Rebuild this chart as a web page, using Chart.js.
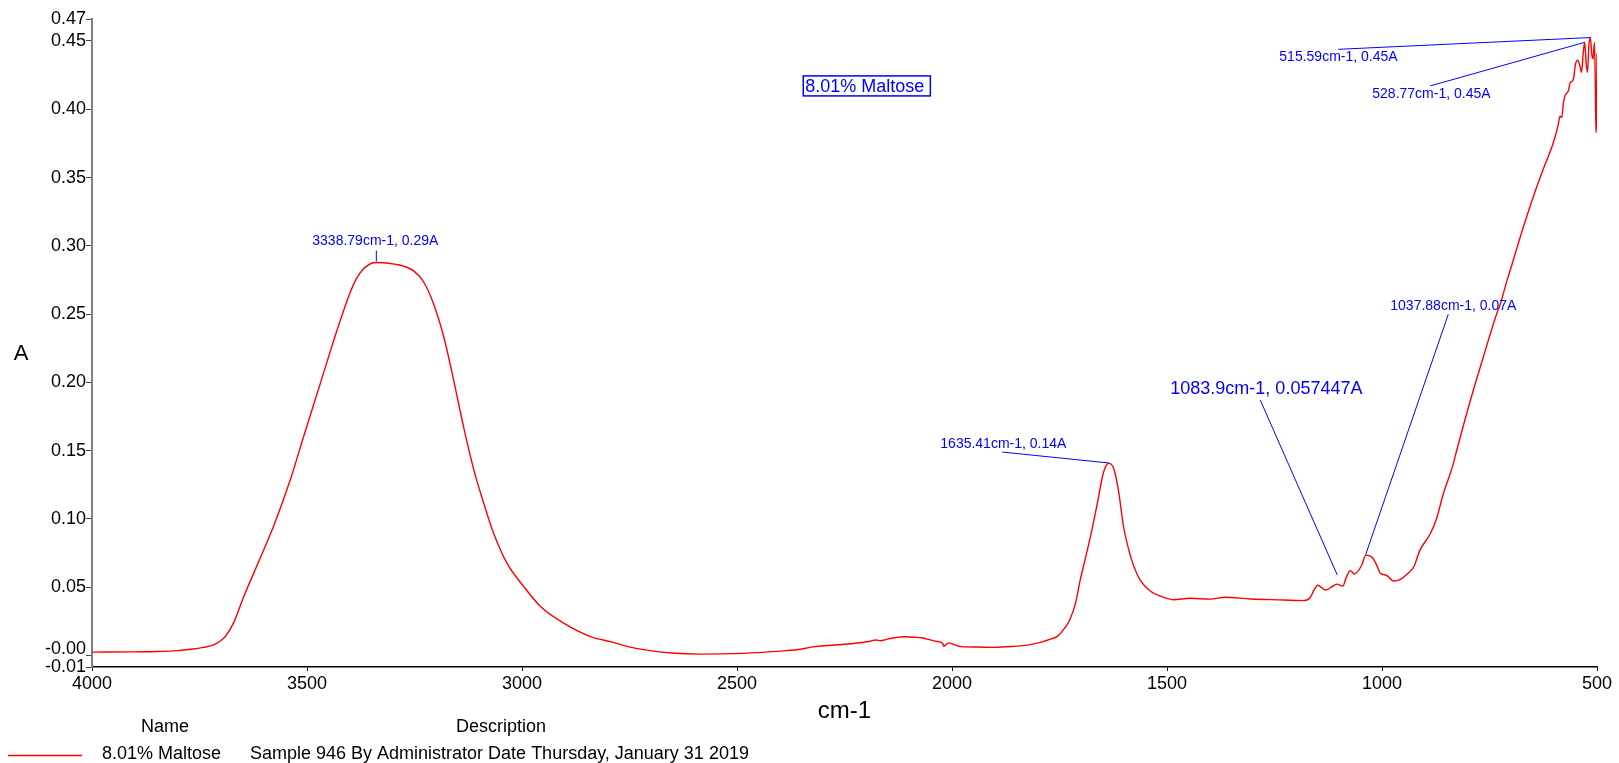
<!DOCTYPE html>
<html>
<head>
<meta charset="utf-8">
<script src="https://cdn.jsdelivr.net/npm/chart.js@4.4.0/dist/chart.umd.min.js"></script>
<style>
html,body{margin:0;padding:0;background:#ffffff;}
#wrap{width:1619px;height:763px;position:relative;}
</style>
</head>
<body>
<div id="wrap"><canvas id="c"></canvas></div>
<script>
// ---- data (wavenumber cm-1, absorbance A) ----
const wavenumbers = [4000,3900,3849,3800,3771,3740,3717,3700,3690,3671,3647,3609,3578,3539,3508,3469,3430,3399,3385,3368,3355,3345,3338.79,3306,3275,3252,3229,3206,3182,3159,3136,3112,3089,3066,3035,2996,2957,2903,2841,2795,2735,2652,2585,2486,2400,2361,2319,2236,2190,2178,2165,2153,2130,2112,2090,2070,2037,2022,2019,2008,1995,1979,1940,1904,1860,1821,1790,1771,1755,1738,1725,1713,1702,1690,1678,1659,1651,1643,1635.41,1624,1613,1601,1585,1573,1562,1539,1508,1485,1446,1399,1364,1306,1229,1182,1167,1158,1149,1132,1118,1105,1091,1083.9,1074,1064,1047,1037.88,1023,1012,1004,990,973,957,940,926,912,888,874,857,836,826,798,764,733,727,709,700,680,669,646,624,601,590,586,582,578,574,570,566,563,555,550,545,540,536,532,528.77,525,522,519,515.59,512,509,506,504,502.5,501.5,500];
const absorbance = [0.0025,0.0027,0.0029,0.0036,0.0046,0.0060,0.0078,0.0110,0.0139,0.0237,0.0432,0.0712,0.0944,0.1285,0.1602,0.1993,0.2383,0.2663,0.2760,0.2834,0.2865,0.2876,0.2878,0.2871,0.2851,0.2817,0.2737,0.2578,0.2334,0.2017,0.1676,0.1359,0.1115,0.0895,0.0676,0.0505,0.0359,0.0237,0.0139,0.0102,0.0052,0.0018,0.0010,0.0016,0.0032,0.0042,0.0065,0.0086,0.0105,0.0114,0.0108,0.0118,0.0132,0.0138,0.0134,0.0130,0.0104,0.0090,0.0068,0.0093,0.0080,0.0065,0.0062,0.0060,0.0066,0.0078,0.0100,0.0120,0.0140,0.0200,0.0270,0.0380,0.0550,0.0710,0.0870,0.1163,0.1298,0.1382,0.1407,0.1370,0.1212,0.0943,0.0730,0.0620,0.0550,0.0472,0.0427,0.0408,0.0419,0.0413,0.0427,0.0414,0.0407,0.0402,0.0425,0.0480,0.0515,0.0480,0.0500,0.0523,0.0508,0.0565,0.0622,0.0597,0.0663,0.0735,0.0719,0.0660,0.0602,0.0588,0.0546,0.0558,0.0600,0.0650,0.0770,0.0890,0.0994,0.1188,0.1385,0.1505,0.1829,0.2190,0.2505,0.2553,0.2749,0.2840,0.3050,0.3160,0.3380,0.3570,0.3760,0.3890,0.3950,0.3940,0.4050,0.4100,0.4120,0.4140,0.4190,0.4220,0.4330,0.4360,0.4320,0.4270,0.4410,0.4490,0.4330,0.4270,0.4460,0.4525,0.4400,0.4370,0.4490,0.4200,0.3830,0.3900,0.4410];

const xTickValues = [4000,3500,3000,2500,2000,1500,1000,500];
const yTickValues = [-0.0084,0.0,0.05,0.10,0.15,0.20,0.25,0.30,0.35,0.40,0.45,0.4661];
const yTickLabels = ['-0.01','-0.00','0.05','0.10','0.15','0.20','0.25','0.30','0.35','0.40','0.45','0.47'];

// peak labels: text, text anchor (wavenumber, A), leader line start and end (wavenumber, A)
const peakLabels = ['515.59cm-1, 0.45A','528.77cm-1, 0.45A','3338.79cm-1, 0.29A','1635.41cm-1, 0.14A','1083.9cm-1, 0.057447A','1037.88cm-1, 0.07A'];
const peakTextWn = [1238.8,1022.6,3487.7,2027.2,1492.3,980.7];
const peakTextA  = [0.4383,0.4113,0.3034,0.1549,0.1950,0.2557];
const leadFromWn = [1101.6,887.7,3338.79,1883,1283,845.8];
const leadFromA  = [0.4439,0.4171,0.2966,0.1490,0.1870,0.2499];
const leadToWn   = [515.59,528.77,3338.79,1635.41,1104,1037.88];
const leadToA    = [0.4525,0.4490,0.2886,0.1410,0.0590,0.0740];
const peakFontPx = [14,14,14,14,18,14];

const seriesName = '8.01% Maltose';
const seriesDescription = 'Sample 946 By Administrator Date Thursday, January 31 2019';
const boxLabelWn = 2341.2, boxLabelA = 0.4171;

const FONT = '"Liberation Sans", Arial, Helvetica, sans-serif';
const points = wavenumbers.map((w,i)=>({x:w,y:absorbance[i]}));

const overlay = {
  id:'overlay',
  afterDraw(chart){
    const ctx = chart.ctx, xs = chart.scales.x, ys = chart.scales.y;
    ctx.save();
    // y tick labels (lower labels pushed apart when they would overlap)
    ctx.font = '18px ' + FONT;
    ctx.fillStyle = '#000000';
    ctx.textAlign = 'right';
    ctx.textBaseline = 'middle';
    let prevY = Infinity;
    for (let i=0;i<yTickValues.length;i++){
      let y = ys.getPixelForValue(yTickValues[i]);
      if (prevY - y < 18) y = prevY - 18;
      ctx.fillText(yTickLabels[i], ys.right - 6, y);
      prevY = y;
    }
    // peak annotations
    for (let i=0;i<peakLabels.length;i++){
      ctx.strokeStyle = '#0000ff';
      ctx.lineWidth = 1;
      ctx.beginPath();
      ctx.moveTo(xs.getPixelForValue(leadFromWn[i]), ys.getPixelForValue(leadFromA[i]));
      ctx.lineTo(xs.getPixelForValue(leadToWn[i]), ys.getPixelForValue(leadToA[i]));
      ctx.stroke();
      ctx.fillStyle = '#0000ff';
      ctx.font = peakFontPx[i] + 'px ' + FONT;
      ctx.textAlign = 'left';
      ctx.textBaseline = 'middle';
      ctx.fillText(peakLabels[i], xs.getPixelForValue(peakTextWn[i]), ys.getPixelForValue(peakTextA[i]));
    }
    // boxed series label
    ctx.font = '18px ' + FONT;
    const bx = xs.getPixelForValue(boxLabelWn), by = ys.getPixelForValue(boxLabelA);
    const bw = ctx.measureText(seriesName).width;
    ctx.fillStyle = '#0000ff';
    ctx.textAlign = 'left';
    ctx.textBaseline = 'middle';
    ctx.fillText(seriesName, bx, by + 1);
    ctx.strokeStyle = '#0000ff';
    ctx.lineWidth = 1.5;
    ctx.strokeRect(bx - 2, by - 10, bw + 8, 20);
    // axis titles
    ctx.fillStyle = '#000000';
    ctx.font = '24px ' + FONT;
    ctx.textAlign = 'center';
    ctx.textBaseline = 'middle';
    ctx.fillText('cm-1', (chart.chartArea.left + chart.chartArea.right)/2, 711);
    ctx.font = '22px ' + FONT;
    ctx.fillText('A', 21, 354);
    // legend table
    ctx.font = '18px ' + FONT;
    ctx.fillText('Name', 165, 727);
    ctx.fillText('Description', 501, 727);
    ctx.textAlign = 'left';
    ctx.fillText(seriesName, 102, 754);
    ctx.fillText(seriesDescription, 250, 754);
    ctx.strokeStyle = '#ff0000';
    ctx.lineWidth = 1.5;
    ctx.beginPath();
    ctx.moveTo(8, 755.5);
    ctx.lineTo(82, 755.5);
    ctx.stroke();
    ctx.restore();
  }
};

Chart.defaults.font.family = FONT;
new Chart(document.getElementById('c'), {
  type: 'line',
  data: {
    datasets: [{
      label: seriesName,
      data: points,
      borderColor: '#ff0000',
      borderWidth: 1.4,
      pointRadius: 0,
      fill: false,
      cubicInterpolationMode: 'monotone'
    }]
  },
  options: {
    responsive: true,
    maintainAspectRatio: false,
    animation: false,
    devicePixelRatio: 1,
    layout: { padding: { left: 0, top: 19, right: 22, bottom: 0 } },
    plugins: { legend: { display: false }, tooltip: { enabled: false } },
    scales: {
      x: {
        type: 'linear',
        reverse: true,
        min: 500,
        max: 4000,
        afterBuildTicks: (s) => { s.ticks = xTickValues.map(v => ({value: v})); },
        afterFit: (s) => { s.height = 96; },
        ticks: {
          autoSkip: false,
          maxRotation: 0,
          padding: 2,
          color: '#000000',
          font: { size: 18 },
          callback: (v) => String(v)
        },
        grid: { drawOnChartArea: false, drawTicks: true, tickLength: 4, tickColor: '#000000', tickWidth: 1 },
        border: { display: true, color: '#000000', width: 1.5 }
      },
      y: {
        type: 'linear',
        min: -0.0084,
        max: 0.4661,
        afterBuildTicks: (s) => { s.ticks = yTickValues.map(v => ({value: v})); },
        afterFit: (s) => { s.width = 92; },
        ticks: {
          display: false,
          autoSkip: false
        },
        grid: { drawOnChartArea: false, drawTicks: true, tickLength: 6, tickColor: '#444444', tickWidth: 1 },
        border: { display: true, color: '#808080', width: 2 }
      }
    }
  },
  plugins: [overlay]
});
</script>
</body>
</html>
